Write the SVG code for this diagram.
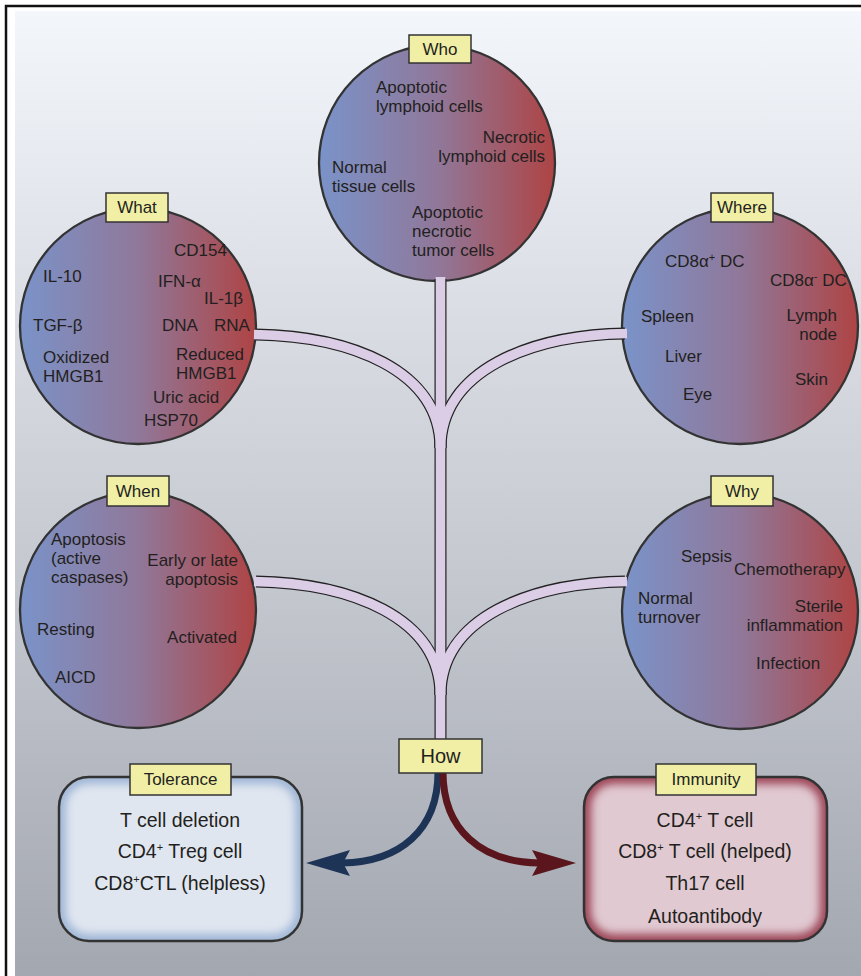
<svg xmlns="http://www.w3.org/2000/svg" width="861" height="976" viewBox="0 0 861 976">
<defs>
<linearGradient id="bg" x1="0" y1="0" x2="0" y2="1">
<stop offset="0" stop-color="#f3f6fb"/>
<stop offset="1" stop-color="#a3a7b0"/>
</linearGradient>
<linearGradient id="ball" x1="0" y1="0" x2="1" y2="0">
<stop offset="0" stop-color="#7a93c9"/>
<stop offset="0.5" stop-color="#90789a"/>
<stop offset="1" stop-color="#ae4444"/>
</linearGradient>
<filter id="blur" x="-10%" y="-10%" width="120%" height="120%"><feGaussianBlur stdDeviation="4"/></filter>
<clipPath id="clipTol"><rect x="59" y="777" width="243" height="164" rx="30"/></clipPath>
<clipPath id="clipImm"><rect x="584" y="777" width="243" height="164" rx="30"/></clipPath>
<style>
text{font-family:"Liberation Sans",Arial,sans-serif;fill:#231f20;}
.t{font-size:17px;}
.e{text-anchor:end;}
.m{text-anchor:middle;}
.ball{fill:url(#ball);stroke:#333;stroke-width:2.3;}
.lab{fill:#f1efa6;stroke:#333;stroke-width:1.5;}
.lt{font-size:17px;text-anchor:middle;}
.bt{font-size:19.5px;text-anchor:middle;}
.tubeo{fill:none;stroke:#222;stroke-width:12;}
.tubei{fill:none;stroke:#dccde6;stroke-width:9.6;}
.sup{font-size:11px;}
</style>
</defs>
<rect x="0" y="0" width="861" height="976" fill="#fff"/>
<rect x="15" y="11" width="846" height="965" fill="url(#bg)"/>
<path d="M6,976 V6 H861" fill="none" stroke="#111" stroke-width="2.5"/>

<g id="who">
<circle class="ball" cx="437" cy="163" r="118"/>
<text class="t" x="376" y="93">Apoptotic</text>
<text class="t" x="376" y="112">lymphoid cells</text>
<text class="t e" x="545" y="143">Necrotic</text>
<text class="t e" x="545" y="162">lymphoid cells</text>
<text class="t" x="332" y="173">Normal</text>
<text class="t" x="332" y="192">tissue cells</text>
<text class="t" x="412" y="218">Apoptotic</text>
<text class="t" x="412" y="237">necrotic</text>
<text class="t" x="412" y="256">tumor cells</text>
</g>

<g id="what">
<circle class="ball" cx="138" cy="326" r="118"/>
<text class="t" x="174" y="256">CD154</text>
<text class="t" x="43" y="282">IL-10</text>
<text class="t" x="158" y="287">IFN-α</text>
<text class="t" x="204" y="304">IL-1β</text>
<text class="t" x="33" y="331">TGF-β</text>
<text class="t" x="162" y="331">DNA</text>
<text class="t" x="214" y="331">RNA</text>
<text class="t" x="43" y="363">Oxidized</text>
<text class="t" x="43" y="382">HMGB1</text>
<text class="t" x="176" y="360">Reduced</text>
<text class="t" x="176" y="379">HMGB1</text>
<text class="t" x="153" y="403">Uric acid</text>
<text class="t" x="144" y="426">HSP70</text>
</g>

<g id="where">
<circle class="ball" cx="740" cy="326" r="118"/>
<text class="t" x="665" y="267">CD8α<tspan class="sup" dy="-6">+</tspan><tspan dy="6"> DC</tspan></text>
<text class="t" x="770" y="286">CD8α<tspan class="sup" dy="-6">-</tspan><tspan dy="6"> DC</tspan></text>
<text class="t" x="641" y="322">Spleen</text>
<text class="t e" x="837" y="321">Lymph</text>
<text class="t e" x="837" y="340">node</text>
<text class="t" x="665" y="362">Liver</text>
<text class="t" x="795" y="385">Skin</text>
<text class="t" x="683" y="400">Eye</text>
</g>

<g id="when">
<circle class="ball" cx="138" cy="610" r="118"/>
<text class="t" x="51" y="545">Apoptosis</text>
<text class="t" x="51" y="564">(active</text>
<text class="t" x="51" y="583">caspases)</text>
<text class="t e" x="238" y="566">Early or late</text>
<text class="t e" x="238" y="585">apoptosis</text>
<text class="t" x="37" y="635">Resting</text>
<text class="t e" x="237" y="643">Activated</text>
<text class="t" x="55" y="683">AICD</text>
</g>

<g id="why">
<circle class="ball" cx="740" cy="611" r="118"/>
<text class="t" x="681" y="562">Sepsis</text>
<text class="t" x="734" y="575">Chemotherapy</text>
<text class="t" x="638" y="604">Normal</text>
<text class="t" x="638" y="623">turnover</text>
<text class="t e" x="843" y="612">Sterile</text>
<text class="t e" x="843" y="631">inflammation</text>
<text class="t" x="756" y="669">Infection</text>
</g>

<g id="connectors">
<path class="tubeo" d="M440.5,279 V740"/>
<path class="tubeo" d="M256,334.5 C350,336 440,370 440.5,448"/>
<path class="tubeo" d="M625,333.5 C531,335 441,370 440.5,448"/>
<path class="tubeo" d="M256,581.5 C350,583 440,617 440.5,695"/>
<path class="tubeo" d="M625,581.5 C531,583 441,617 440.5,695"/>
<path class="tubei" d="M440.5,277 V742"/>
<path class="tubei" d="M254,334.5 C350,336 440,370 440.5,448"/>
<path class="tubei" d="M627,333.5 C531,335 441,370 440.5,448"/>
<path class="tubei" d="M254,581.5 C350,583 440,617 440.5,695"/>
<path class="tubei" d="M627,581.5 C531,583 441,617 440.5,695"/>
<path d="M438,772 C438,830 400,862 342,863" fill="none" stroke="#1e3457" stroke-width="7"/>
<polygon points="306,863 350,850 343,863 350,876" fill="#1e3457"/>
<path d="M443,772 C443,830 481,862 539,863" fill="none" stroke="#5a161c" stroke-width="7"/>
<polygon points="576,863 532,850 539,863 532,876" fill="#5a161c"/>
</g>

<g id="who-label"><rect class="lab" x="409" y="35" width="62" height="28"/><text class="lt" x="440" y="55">Who</text></g>
<g id="what-label"><rect class="lab" x="106" y="193" width="62" height="29"/><text class="lt" x="137" y="213">What</text></g>
<g id="where-label"><rect class="lab" x="711" y="193" width="62" height="29"/><text class="lt" x="742" y="213">Where</text></g>
<g id="when-label"><rect class="lab" x="107" y="476" width="62" height="30"/><text class="lt" x="138" y="497">When</text></g>
<g id="why-label"><rect class="lab" x="711" y="476" width="62" height="30"/><text class="lt" x="742" y="497">Why</text></g>
<g id="how"><rect class="lab" x="399" y="739" width="83" height="34"/><text class="lt" x="440.5" y="763" style="font-size:20px">How</text></g>

<g id="tolerance">
<rect x="59" y="777" width="243" height="164" rx="30" fill="#e0e6f0"/>
<rect x="59" y="777" width="243" height="164" rx="30" fill="none" stroke="#9fb6d6" stroke-width="14" filter="url(#blur)" clip-path="url(#clipTol)"/>
<rect x="59" y="777" width="243" height="164" rx="30" fill="none" stroke="#333" stroke-width="2.5"/>
<rect class="lab" x="130" y="764" width="101" height="31"/>
<text class="lt" x="180.5" y="785">Tolerance</text>
<text class="bt" x="180" y="827">T cell deletion</text>
<text class="bt" x="180" y="858">CD4<tspan class="sup" dy="-7">+</tspan><tspan dy="7"> Treg cell</tspan></text>
<text class="bt" x="180" y="890">CD8<tspan class="sup" dy="-7">+</tspan><tspan dy="7">CTL (helpless)</tspan></text>
</g>

<g id="immunity">
<rect x="584" y="777" width="243" height="164" rx="30" fill="#e0c9d1"/>
<rect x="584" y="777" width="243" height="164" rx="30" fill="none" stroke="#9c4456" stroke-width="14" filter="url(#blur)" clip-path="url(#clipImm)"/>
<rect x="584" y="777" width="243" height="164" rx="30" fill="none" stroke="#333" stroke-width="2.5"/>
<rect class="lab" x="656" y="764" width="100" height="31"/>
<text class="lt" x="706" y="785">Immunity</text>
<text class="bt" x="705" y="827">CD4<tspan class="sup" dy="-7">+</tspan><tspan dy="7"> T cell</tspan></text>
<text class="bt" x="705" y="858">CD8<tspan class="sup" dy="-7">+</tspan><tspan dy="7"> T cell (helped)</tspan></text>
<text class="bt" x="705" y="890">Th17 cell</text>
<text class="bt" x="705" y="923">Autoantibody</text>
</g>
</svg>
